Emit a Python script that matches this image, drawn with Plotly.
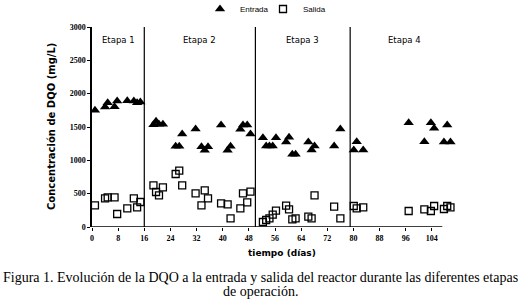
import plotly.graph_objects as go

# Days of sampling (tiempo, días)
days = [0.9, 4.0, 4.8, 6.9, 7.7, 10.8, 12.8, 13.8, 14.8,
        18.8, 19.6, 20.5, 21.7, 25.6, 26.7, 27.6, 31.7, 33.5, 34.5, 35.5,
        39.5, 41.5, 42.4, 45.4, 46.2, 47.5, 48.5,
        52.3, 53.3, 54.3, 55.3, 56.3, 59.4, 60.3, 61.3, 62.3, 66.2, 67.2, 68.1, 74.1, 76.0,
        80.1, 81.0, 83.0, 96.9, 101.7, 103.7, 104.7, 107.7, 108.7, 109.7]

entrada = [1750, 1800, 1865, 1805, 1890, 1895, 1890, 1865, 1875,
           1535, 1585, 1540, 1540, 1210, 1210, 1395, 1470, 1205, 1150, 1205,
           1530, 1150, 1210, 1465, 1530, 1530, 1395,
           1340, 1215, 1215, 1215, 1340, 1275, 1345, 1090, 1090, 1275, 1155, 1215, 1215, 1470,
           1155, 1280, 1155, 1565, 1280, 1565, 1480, 1275, 1530, 1275]

salida = [325, 430, 445, 445, 195, 280, 430, 295, 375,
          625, 525, 475, 595, 795, 845, 625, 505, 325, 550, 430,
          355, 340, 130, 280, 505, 370, 530,
          75, 105, 130, 185, 245, 320, 265, 115, 130, 155, 130, 475, 305, 130,
          315, 280, 295, 240, 265, 240, 315, 270, 315, 295]

stage_bounds = [0, 16, 50, 79, 112]
stage_labels = ["Etapa 1", "Etapa 2", "Etapa 3", "Etapa 4"]
x_ticks = list(range(0, 105, 8))
y_ticks = [0, 500, 1000, 1500, 2000, 2500, 3000]
x_axis_end = 107.2
caption_lines = ["Figura 1. Evolución de la DQO a la entrada y salida del reactor durante las diferentes etapas",
                 "de operación."]

fig = go.Figure()
fig.add_trace(go.Scatter(
    x=days, y=entrada, mode="markers", name="Entrada",
    marker=dict(symbol="triangle-up", size=9, color="black", line=dict(width=0))))
fig.add_trace(go.Scatter(
    x=days, y=salida, mode="markers", name="Salida",
    marker=dict(symbol="square-open", size=7, color="black", line=dict(width=1.3))))

shapes = []
for b in stage_bounds[1:-1]:
    shapes.append(dict(type="line", xref="x", yref="y", x0=b, x1=b, y0=0, y1=3000,
                       line=dict(color="black", width=1.2)))
shapes.append(dict(type="line", xref="x", yref="y", x0=0, x1=x_axis_end, y0=0, y1=0,
                   line=dict(color="black", width=1.5)))

annotations = []
for i, lab in enumerate(stage_labels):
    annotations.append(dict(x=(stage_bounds[i] + stage_bounds[i + 1]) / 2, y=2800,
                            xref="x", yref="y", text=lab, showarrow=False, xanchor="center",
                            font=dict(family="DejaVu Sans", size=8.5, color="black")))
annotations.append(dict(x=(51 - 92) / 366, y=0.5, xref="paper", yref="paper",
                        text="Concentración de DQO (mg/L)", textangle=-90, showarrow=False,
                        xanchor="center", yanchor="middle",
                        font=dict(family="DejaVu Sans", size=10, color="black", weight="bold")))
annotations.append(dict(x=(282 - 92) / 366, y=(227 - 253) / 200, xref="paper", yref="paper",
                        text="tiempo (días)", showarrow=False, xanchor="center", yanchor="middle",
                        font=dict(family="DejaVu Sans", size=9, color="black", weight="bold")))
for line, ypx in zip(caption_lines, [277, 291]):
    annotations.append(dict(x=(260 - 92) / 366, y=(227 - ypx) / 200, xref="paper", yref="paper",
                            text=line, showarrow=False, xanchor="center", yanchor="middle",
                            font=dict(family="Liberation Serif", size=14, color="black")))

fig.update_layout(
    width=520, height=301,
    margin=dict(l=92, r=62, t=27, b=74, autoexpand=False),
    paper_bgcolor="white", plot_bgcolor="white",
    showlegend=True,
    legend=dict(orientation="h", xref="container", x=200 / 520, xanchor="left",
                yref="container", y=1 - 9 / 301, yanchor="middle",
                font=dict(family="Liberation Sans", size=8, color="black"),
                itemwidth=30, entrywidth=18, tracegroupgap=0, bgcolor="rgba(0,0,0,0)"),
    shapes=shapes, annotations=annotations,
)
fig.update_xaxes(range=[0, 112], tickvals=x_ticks, ticks="outside", ticklen=3,
                 tickcolor="black", showgrid=False, zeroline=False, showline=False,
                 automargin=False,
                 tickfont=dict(family="Liberation Serif", size=8, color="black", weight="bold"))
fig.update_yaxes(range=[0, 3000], tickvals=y_ticks, ticks="outside", ticklen=3,
                 tickcolor="black", showgrid=False, zeroline=False, showline=True,
                 linecolor="black", linewidth=1.5, automargin=False,
                 tickfont=dict(family="Liberation Serif", size=8, color="black", weight="bold"))

fig.write_html("out.html", config={"displayModeBar": False},
               post_script="document.body.style.margin='0';document.body.style.overflow='hidden';")
